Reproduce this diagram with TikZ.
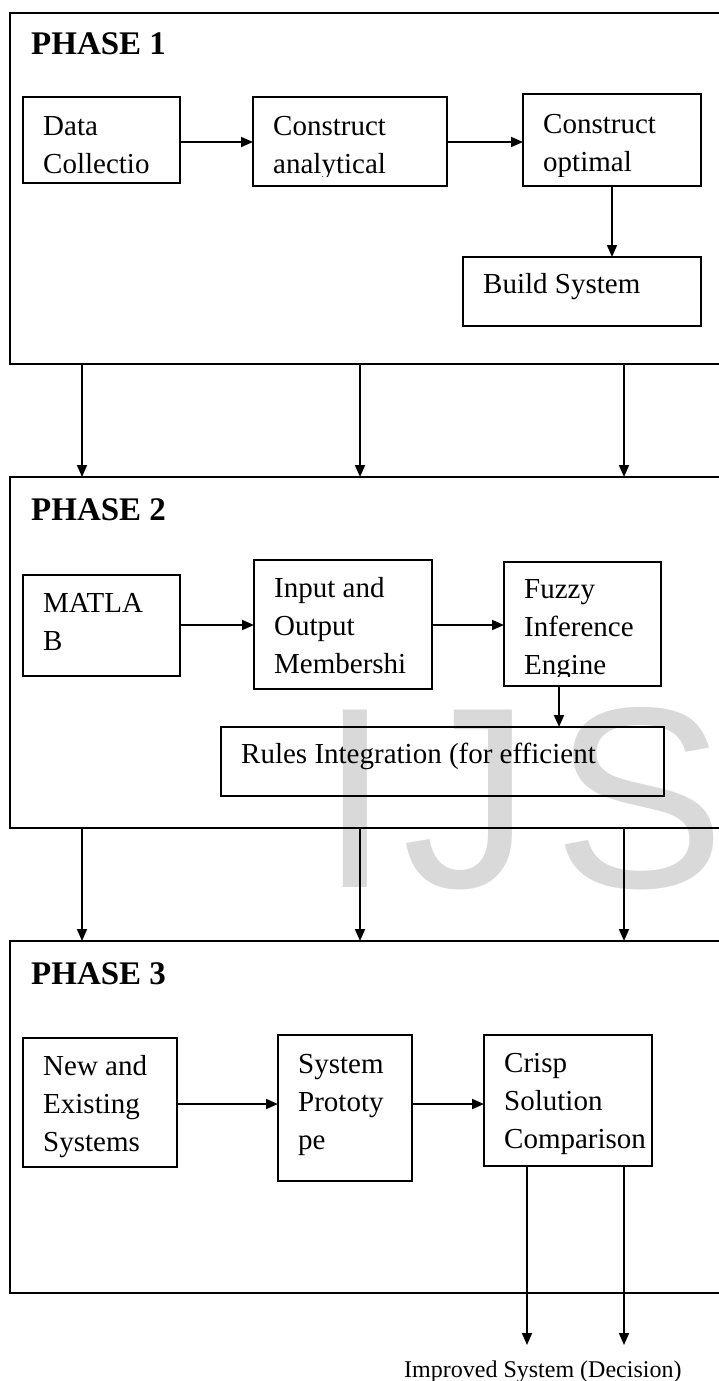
\documentclass[tikz,border=0pt]{standalone}
\usepackage{fontspec}
\setmainfont{Liberation Serif}
\newfontfamily\wmfont{Liberation Sans}
\usetikzlibrary{arrows.meta}

\definecolor{wmgray}{RGB}{217,217,217}
\newcommand\boxfont{\fontsize{29}{38}\selectfont}
\newcommand\titlefont{\fontsize{33}{38}\selectfont\bfseries}

% text lines inside a box, cut off a little above the box's lower edge
\newcommand\boxlines[3][37]{%
  \begin{scope}
    \clip (#2.north west) rectangle ([yshift=10pt]#2.south east);
    \node[txt, anchor=base west] at ([shift={(20,#1)}]#2.north west)
      {\vtop{\halign{##\hfil\cr#3\crcr}}};
  \end{scope}}

\begin{document}
\begin{tikzpicture}[x=1pt, y=-1pt,
  blk/.style={draw, line width=1.6pt, inner sep=0pt, outer sep=0pt, anchor=north west},
  phasebox/.style={draw, line width=1.7pt, inner sep=0pt, outer sep=0pt, anchor=north west,
    minimum width=720pt, minimum height=351pt},
  txt/.style={inner sep=0pt, font=\boxfont},
  title/.style={inner sep=0pt, anchor=base west, font=\titlefont},
  arr/.style={line width=1.8pt, -{Triangle[length=12pt,width=10pt]}}]

\useasboundingbox (0,0) rectangle (718,1381);

% watermark
\node[inner sep=0pt, anchor=base west, text=wmgray,
  font=\wmfont\fontsize{258}{258}\selectfont] (wm) at (319,887) {I\kern12pt J\kern22pt S};

% ---------------- Phase 1 ----------------
\node[phasebox] (ph1) at (10,13) {};
\node[title] (t1) at (31,55) {PHASE 1};

\node[blk, minimum width=157pt, minimum height=86pt]  (data)  at (23,97)  {};
\node[blk, minimum width=194pt, minimum height=89pt]  (anl)   at (253,97) {};
\node[blk, minimum width=178pt, minimum height=92pt]  (opt)   at (523,94) {};
\node[blk, minimum width=238pt, minimum height=69pt]  (build) at (463,257) {};

\boxlines[38]{data}{Data\cr Collectio}
\boxlines[38]{anl}{Construct\cr analytical}
\boxlines[39]{opt}{Construct\cr optimal}
\boxlines[36]{build}{Build System}

\coordinate (r1) at (0,142);
\draw[arr] (data.east |- r1) -- (anl.west |- r1);
\draw[arr] (anl.east |- r1) -- (opt.west |- r1);
\draw[arr] (opt.south) -- (opt.south |- build.north);

% ---------------- Phase 2 ----------------
\node[phasebox] (ph2) at (10,477) {};
\node[title] (t2) at (31,520) {PHASE 2};

\node[blk, minimum width=157pt, minimum height=101pt] (matlab) at (23,575)  {};
\node[blk, minimum width=178pt, minimum height=129pt] (inout)  at (254,560) {};
\node[blk, minimum width=157pt, minimum height=124pt] (fuzzy)  at (504,562) {};
\node[blk, minimum width=443pt, minimum height=69pt]  (rules)  at (221,727) {};

\boxlines{matlab}{MATLA\cr B}
\boxlines{inout}{Input and\cr Output\cr Membershi}
\boxlines[36]{fuzzy}{Fuzzy\cr Inference\cr Engine}
\boxlines[36]{rules}{Rules Integration (for efficient}

\coordinate (r2) at (0,625);
\coordinate (f1) at (559,0);
\draw[arr] (matlab.east |- r2) -- (inout.west |- r2);
\draw[arr] (inout.east |- r2) -- (fuzzy.west |- r2);
\draw[arr] (fuzzy.south -| f1) -- (rules.north -| f1);

% ---------------- Phase 3 ----------------
\node[phasebox, minimum height=352pt] (ph3) at (10,941) {};
\node[title] (t3) at (31,984) {PHASE 3};

\node[blk, minimum width=154pt, minimum height=129pt] (newex) at (23,1038)  {};
\node[blk, minimum width=134pt, minimum height=146pt] (proto) at (278,1035) {};
\node[blk, minimum width=168pt, minimum height=131pt] (crisp) at (484,1035) {};

\boxlines{newex}{New and\cr Existing\cr Systems}
\boxlines[38]{proto}{System\cr Prototy\cr pe}
\boxlines{crisp}{Crisp\cr Solution\cr Comparison}

\coordinate (r3) at (0,1104);
\draw[arr] (newex.east |- r3) -- (proto.west |- r3);
\draw[arr] (proto.east |- r3) -- (crisp.west |- r3);

% ---------------- links between phases ----------------
\foreach \dx in {72,350,614} {
  \draw[arr] ([xshift=\dx pt]ph1.south west) -- ([xshift=\dx pt]ph2.north west);
  \draw[arr] ([xshift=\dx pt]ph2.south west) -- ([xshift=\dx pt]ph3.north west);
}

% ---------------- outcome ----------------
\coordinate (o1) at (527,1345);
\coordinate (o2) at (624,1345);
\draw[arr] (crisp.south -| o1) -- (o1);
\draw[arr] (crisp.south -| o2) -- (o2);
\node[inner sep=0pt, anchor=base west, font=\fontsize{24}{28}\selectfont] (out) at (404,1377)
  {Improved System (Decision)};

\end{tikzpicture}
\end{document}
